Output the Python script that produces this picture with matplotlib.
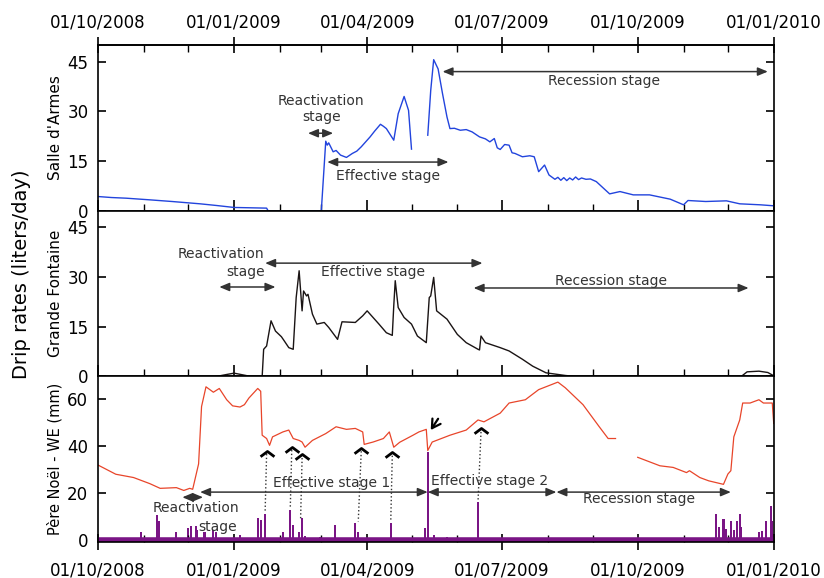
import numpy as np
import pandas as pd
import matplotlib
matplotlib.use("Agg")
import matplotlib.pyplot as plt
import matplotlib.dates as mdates

nan = np.nan

# Salle d'Armes drip rate (liters/day)
sda_dates = ["2008-10-01", "2008-10-10", "2008-10-20", "2008-11-05", "2008-11-20", "2008-12-09",
             "2008-12-20", "2009-01-01", "2009-01-23", "2009-01-24", "2009-03-01", "2009-03-04",
             "2009-03-05", "2009-03-06", "2009-03-09", "2009-03-11", "2009-03-14", "2009-03-18",
             "2009-03-22", "2009-03-25", "2009-03-28", "2009-04-03", "2009-04-06", "2009-04-10",
             "2009-04-12", "2009-04-14", "2009-04-19", "2009-04-22", "2009-04-26", "2009-04-29",
             "2009-05-01", "2009-05-02", "2009-05-11", "2009-05-12", "2009-05-14", "2009-05-16",
             "2009-05-19", "2009-05-22", "2009-05-25", "2009-05-27", "2009-05-30", "2009-06-03",
             "2009-06-07", "2009-06-11", "2009-06-16", "2009-06-20", "2009-06-23", "2009-06-26",
             "2009-06-28", "2009-06-30", "2009-07-03", "2009-07-06", "2009-07-08", "2009-07-10",
             "2009-07-15", "2009-07-20", "2009-07-23", "2009-07-26", "2009-07-30", "2009-08-02",
             "2009-08-06", "2009-08-08", "2009-08-10", "2009-08-12", "2009-08-14", "2009-08-16",
             "2009-08-18", "2009-08-20", "2009-08-22", "2009-08-24", "2009-08-27", "2009-08-30",
             "2009-09-03", "2009-09-12", "2009-09-19", "2009-09-28", "2009-10-09", "2009-10-23",
             "2009-11-01", "2009-11-04", "2009-11-16", "2009-11-30", "2009-12-09", "2009-12-23",
             "2010-01-01"]
sda_rate = [4.3, 4.0, 3.8, 3.3, 2.8, 2.1,
            1.6, 1.0, 0.8, 0.0, 0.0, 21.0,
            19.8, 20.5, 17.8, 18.2, 16.8, 16.1,
            17.3, 18.0, 19.3, 22.3, 24.0, 26.1,
            25.5, 24.8, 21.3, 29.3, 34.5, 30.3,
            18.6, nan, nan, 22.8, 36.3, 45.6,
            42.8, 35.3, 28.3, 24.8, 24.9, 24.3,
            24.5, 23.8, 22.3, 21.7, 20.8, 21.8,
            19.0, 18.5, 20.0, 19.8, 17.5, 17.3,
            16.3, 16.6, 16.3, 11.8, 13.8, 10.8,
            9.5, 10.1, 9.2, 10.0, 9.1, 9.9,
            9.3, 10.2, 9.4, 9.9, 9.5, 9.6,
            8.8, 5.1, 5.8, 4.8, 4.8, 3.5,
            1.8, 3.1, 2.8, 3.0, 2.1, 1.8,
            1.5]

# Grande Fontaine drip rate (liters/day)
gf_dates = ["2008-12-20", "2008-12-27", "2009-01-01", "2009-01-09", "2009-01-12", "2009-01-20",
            "2009-01-21", "2009-01-23", "2009-01-26", "2009-01-29", "2009-02-02", "2009-02-04",
            "2009-02-07", "2009-02-10", "2009-02-12", "2009-02-14", "2009-02-16", "2009-02-17",
            "2009-02-19", "2009-02-20", "2009-02-23", "2009-02-26", "2009-03-03", "2009-03-06",
            "2009-03-12", "2009-03-15", "2009-03-24", "2009-03-29", "2009-04-01", "2009-04-05",
            "2009-04-09", "2009-04-14", "2009-04-18", "2009-04-19", "2009-04-20", "2009-04-22",
            "2009-04-26", "2009-05-01", "2009-05-05", "2009-05-11", "2009-05-13", "2009-05-14",
            "2009-05-16", "2009-05-18", "2009-05-25", "2009-06-01", "2009-06-07", "2009-06-15",
            "2009-06-16", "2009-06-17", "2009-06-20", "2009-06-30", "2009-07-06", "2009-07-15",
            "2009-07-22", "2009-07-31", "2009-08-13", "2009-08-20", "2009-12-10", "2009-12-14",
            "2009-12-22", "2009-12-28", "2010-01-01"]
gf_rate = [0.0, 0.6, 1.0, 0.3, 0.0, 0.0,
           8.2, 9.2, 16.8, 13.7, 12.0, 10.7,
           8.7, 8.2, 23.8, 31.9, 19.8, 25.8,
           24.3, 24.8, 18.8, 15.8, 16.3, 14.8,
           11.2, 16.5, 16.3, 18.3, 19.8, 17.8,
           15.8, 13.2, 12.4, 21.3, 28.9, 20.8,
           17.8, 15.8, 12.2, 10.2, 23.8, 24.3,
           29.9, 19.8, 17.3, 12.7, 10.2, 8.2,
           8.0, 12.2, 10.2, 8.7, 7.7, 5.2,
           3.1, 1.1, 0.3, 0.0, 0.0, 1.4,
           1.6, 1.2, 0.2]

# Pere Noel water equivalent (mm)
we_dates = ["2008-10-01", "2008-10-13", "2008-10-25", "2008-11-05", "2008-11-12", "2008-11-23",
            "2008-11-28", "2008-12-02", "2008-12-04", "2008-12-08", "2008-12-10", "2008-12-13",
            "2008-12-18", "2008-12-22", "2008-12-27", "2008-12-31", "2009-01-05", "2009-01-08",
            "2009-01-11", "2009-01-17", "2009-01-19", "2009-01-20", "2009-01-23", "2009-01-25",
            "2009-01-27", "2009-02-03", "2009-02-07", "2009-02-10", "2009-02-14", "2009-02-16",
            "2009-02-18", "2009-02-23", "2009-03-04", "2009-03-11", "2009-03-18", "2009-03-24",
            "2009-03-29", "2009-03-30", "2009-04-05", "2009-04-12", "2009-04-16", "2009-04-19",
            "2009-04-23", "2009-05-02", "2009-05-06", "2009-05-11", "2009-05-12", "2009-05-15",
            "2009-05-27", "2009-06-07", "2009-06-15", "2009-06-19", "2009-06-30", "2009-07-06",
            "2009-07-17", "2009-07-26", "2009-08-08", "2009-08-13", "2009-08-25", "2009-09-05",
            "2009-09-11", "2009-09-16", "2009-09-17", "2009-09-30", "2009-10-01", "2009-10-16",
            "2009-10-25", "2009-11-03", "2009-11-05", "2009-11-12", "2009-11-18", "2009-11-28",
            "2009-12-01", "2009-12-03", "2009-12-05", "2009-12-09", "2009-12-11", "2009-12-16",
            "2009-12-22", "2009-12-25", "2009-12-31", "2010-01-01"]
we_mm = [31.8, 27.9, 26.5, 23.9, 21.9, 22.2,
         21.0, 21.9, 21.5, 32.3, 56.7, 65.1,
         62.8, 64.4, 59.6, 57.0, 56.5, 57.5,
         60.3, 64.4, 63.2, 44.5, 43.1, 40.2,
         43.8, 45.9, 46.7, 43.1, 42.3, 41.6,
         39.4, 42.3, 45.2, 48.1, 47.0, 47.4,
         45.9, 40.6, 41.6, 43.1, 45.9, 39.4,
         41.5, 44.5, 45.9, 47.0, 38.0, 41.6,
         44.5, 46.7, 51.0, 50.2, 53.9, 58.2,
         59.6, 63.9, 67.1, 64.7, 57.5, 48.1,
         43.1, 43.1, nan, nan, 35.1, 31.5,
         30.8, 28.6, 29.4, 26.5, 25.1, 23.6,
         28.0, 29.4, 43.8, 51.0, 58.2, 58.2,
         59.6, 58.2, 58.2, 49.5]

# daily precipitation (mm)
rain_dates = ["2008-10-30", "2008-11-10", "2008-11-11", "2008-11-23", "2008-12-01", "2008-12-03",
              "2008-12-06", "2008-12-07", "2008-12-12", "2008-12-18", "2008-12-20", "2009-01-05",
              "2009-01-17", "2009-01-19", "2009-01-22", "2009-02-03", "2009-02-08", "2009-02-10",
              "2009-02-14", "2009-02-16", "2009-02-18", "2009-02-28", "2009-03-10", "2009-03-24",
              "2009-03-26", "2009-04-17", "2009-05-10", "2009-05-12", "2009-05-16", "2009-05-25",
              "2009-06-15", "2009-11-23", "2009-11-25", "2009-11-28", "2009-11-30", "2009-12-03",
              "2009-12-05", "2009-12-07", "2009-12-09", "2009-12-10", "2009-12-22", "2009-12-24",
              "2009-12-27", "2009-12-30", "2009-12-31"]
rain_mm = [3.5, 10.7, 8.0, 3.2, 4.9, 6.0,
           6.0, 4.0, 3.5, 4.2, 3.5, 2.0,
           9.2, 8.5, 10.9, 3.2, 12.8, 6.3,
           3.5, 9.2, 1.5, 1.2, 6.3, 7.0,
           3.5, 7.0, 4.9, 37.3, 2.0, 1.0,
           16.0, 10.9, 5.5, 8.9, 4.8, 7.8,
           4.0, 7.8, 10.9, 5.5, 3.5, 3.8,
           7.8, 14.3, 7.8]

# rain events linked to WE drops: (chevron date, chevron level, rain date, rain level)
links = [("2009-01-23", 38.0, "2009-01-22", 12.0),
         ("2009-02-09", 39.7, "2009-02-08", 13.4),
         ("2009-02-16", 36.3, "2009-02-15", 9.0),
         ("2009-03-28", 39.2, "2009-03-26", 7.8),
         ("2009-04-18", 37.3, "2009-04-17", 8.6),
         ("2009-06-17", 47.4, "2009-06-15", 16.4)]

d = lambda s: mdates.date2num(pd.Timestamp(s))

ink = "#333333"
fig = plt.figure(figsize=(8.24, 5.78), dpi=100)
gs = fig.add_gridspec(3, 1, left=0.119, right=0.939, top=0.922, bottom=0.062, hspace=0)
ax1 = fig.add_subplot(gs[0])
ax2 = fig.add_subplot(gs[1], sharex=ax1)
ax3 = fig.add_subplot(gs[2], sharex=ax1)

ax1.plot(pd.to_datetime(sda_dates), sda_rate, color="#2244dd", lw=1.0)
ax2.plot(pd.to_datetime(gf_dates), gf_rate, color="#1a1414", lw=1.0)
ax3.axhline(0, color="#7a1585", lw=4)
ax3.bar(pd.to_datetime(rain_dates), rain_mm, width=1.4, color="#7a1585")
ax3.plot(pd.to_datetime(we_dates), we_mm, color="#e8452a", lw=0.9)

ax1.set_ylim(0, 50)
ax2.set_ylim(0, 50)
ax3.set_ylim(-1, 69.5)
for ax in (ax1, ax2):
    ax.set_yticks([0, 15, 30, 45])
ax3.set_yticks([0, 20, 40, 60])
ax1.set_xlim(pd.Timestamp("2008-10-01"), pd.Timestamp("2010-01-01"))

for ax in (ax1, ax2, ax3):
    for sp in ax.spines.values():
        sp.set_linewidth(1.2)
    ax.xaxis.set_major_locator(mdates.MonthLocator(bymonth=[1, 4, 7, 10]))
    ax.xaxis.set_minor_locator(mdates.MonthLocator())
    ax.xaxis.set_major_formatter(mdates.DateFormatter("%d/%m/%Y"))
    ax.tick_params(axis="y", direction="in", length=6, width=1.2, right=True,
                   labelright=False, labelsize=12, pad=7)
    ax.tick_params(axis="x", which="major", direction="in", length=8, width=1.2, top=False)
    ax.tick_params(axis="x", which="minor", direction="in", length=5, width=1.0, top=False)

ax1.tick_params(axis="x", labelbottom=False)
ax2.tick_params(axis="x", labelbottom=False)
ax3.tick_params(axis="x", which="major", direction="inout", length=12, labelsize=12, pad=8)

sec = ax1.secondary_xaxis("top")
sec.xaxis.set_major_locator(mdates.MonthLocator(bymonth=[1, 4, 7, 10]))
sec.xaxis.set_minor_locator(mdates.MonthLocator())
sec.xaxis.set_major_formatter(mdates.DateFormatter("%d/%m/%Y"))
sec.tick_params(axis="x", which="major", direction="inout", length=12, width=1.2, labelsize=12, pad=4)
sec.tick_params(axis="x", which="minor", direction="in", length=5, width=1.0)
sec.spines["top"].set_linewidth(1.2)

ax1.set_ylabel("Salle d'Armes", fontsize=11)
ax2.set_ylabel("Grande Fontaine", fontsize=11)
ax3.set_ylabel("Père Noël - WE (mm)", fontsize=10.5)
for ax in (ax1, ax2, ax3):
    ax.yaxis.set_label_coords(-0.052, 0.5)
fig.text(0.026, 0.525, "Drip rates (liters/day)", rotation=90, fontsize=14,
         ha="center", va="center")


def stage(ax, start, end, y):
    ax.annotate("", xy=(d(end), y), xytext=(d(start), y),
                arrowprops=dict(arrowstyle="<|-|>,head_length=0.6,head_width=0.25",
                                color=ink, lw=1.1, shrinkA=0, shrinkB=0))


def label(ax, day, y, s):
    ax.text(d(day), y, s, ha="center", va="center", fontsize=10, color=ink)


# Salle d'Armes stages
label(ax1, "2009-03-01", 30.6, "Reactivation\nstage")
stage(ax1, "2009-02-20", "2009-03-09", 23.4)
stage(ax1, "2009-03-05", "2009-05-26", 14.7)
label(ax1, "2009-04-15", 10.5, "Effective stage")
stage(ax1, "2009-05-22", "2009-12-28", 42.0)
label(ax1, "2009-09-08", 39.3, "Recession stage")

# Grande Fontaine stages
label(ax2, "2008-12-23", 37.0, "Reactivation")
label(ax2, "2009-01-09", 31.5, "stage")
stage(ax2, "2008-12-22", "2009-01-29", 27.0)
stage(ax2, "2009-01-22", "2009-06-18", 34.2)
label(ax2, "2009-04-05", 31.5, "Effective stage")
stage(ax2, "2009-06-12", "2009-12-15", 26.7)
label(ax2, "2009-09-13", 28.8, "Recession stage")

# Pere Noel stages
label(ax3, "2008-12-06", 13.4, "Reactivation")
label(ax3, "2008-12-21", 5.6, "stage")
stage(ax3, "2008-11-27", "2008-12-11", 18.1)
stage(ax3, "2008-12-09", "2009-05-12", 20.3)
label(ax3, "2009-03-08", 24.2, "Effective stage 1")
stage(ax3, "2009-05-12", "2009-08-07", 20.3)
label(ax3, "2009-06-23", 25.1, "Effective stage 2")
stage(ax3, "2009-08-07", "2009-12-03", 20.3)
label(ax3, "2009-10-02", 17.3, "Recession stage")

chevron = [(-1, -0.75), (0, 0), (1, -0.75)]
for top_day, top_v, bot_day, bot_v in links:
    ax3.plot([d(top_day), d(bot_day)], [top_v - 1.5, bot_v], ls=":", color=ink, lw=1.0)
    ax3.plot(d(top_day), top_v, marker=chevron, ms=10, mfc="none", mec="black", mew=2)
ax3.annotate("", xy=(d("2009-05-14"), 46.7), xytext=(d("2009-05-19"), 51.5),
             arrowprops=dict(arrowstyle="->,head_length=0.6,head_width=0.35",
                             color="black", lw=1.6, shrinkA=0, shrinkB=0))

fig.savefig("out.png", dpi=100)
